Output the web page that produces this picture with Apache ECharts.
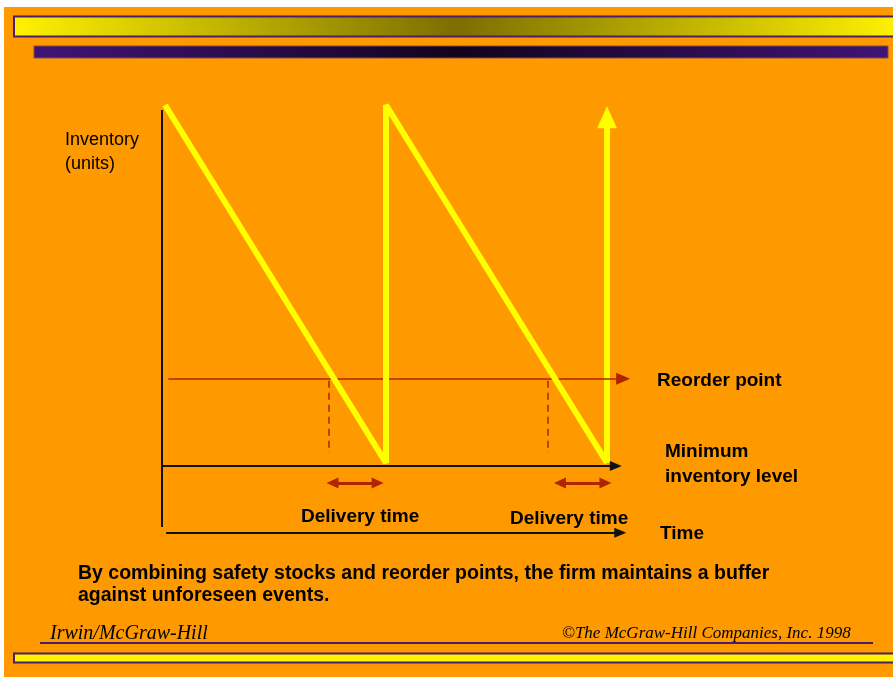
<!DOCTYPE html>
<html>
<head>
<meta charset="utf-8">
<script src="https://cdn.jsdelivr.net/npm/echarts@6/dist/echarts.min.js"></script>
<style>
  html, body { margin: 0; padding: 0; background: #fff; }
  #chart { width: 893px; height: 677px; }
</style>
</head>
<body>
<div id="chart"></div>
<script>
// sawtooth: time vs inventory
var timeVals = [0, 10, 10, 20];
var inventoryVals = [100, 0, 100, 0];
var restockTime = 20;              // last replenishment (arrow up)
var restockTop = 96.6;
var reorderLevel = 23.5;           // reorder point
var reorderTimes = [7.4, 17.3];    // when orders are placed (dashed lines)
var deliveryStart = [7.58, 17.87]; // delivery-time arrows
var deliveryEnd = [9.62, 19.93];
var minLevel = -0.85;              // minimum inventory level line
var deliveryLevel = -5.6;
var timeAxisLevel = -19.5;

var RED = '#B02400';
var BLACK = '#111';

var chart = echarts.init(document.getElementById('chart'));

var sawData = timeVals.map(function (t, i) { return [t, inventoryVals[i]]; });

var marks = [];
// final replenishment arrow
marks.push([
    {coord: [restockTime, 0], symbol: 'none', lineStyle: {color: '#FFFF00', width: 6, type: 'solid'}},
    {coord: [restockTime, restockTop], symbol: 'triangle', symbolSize: [20, 22]}
]);
// reorder point line
marks.push([
    {coord: [0.15, reorderLevel], symbol: 'none', lineStyle: {color: RED, width: 1.5, type: 'solid'}},
    {coord: [20.73, reorderLevel], symbol: 'triangle', symbolSize: [12, 14]}
]);
// dashed drop lines
reorderTimes.forEach(function (t) {
    marks.push([
        {coord: [t, reorderLevel - 0.5], symbol: 'none', lineStyle: {color: RED, width: 1.5, type: [7, 5]}},
        {coord: [t, 2.8], symbol: 'none'}
    ]);
});
// delivery-time arrows
deliveryStart.forEach(function (t, i) {
    marks.push([
        {coord: [t, deliveryLevel], symbol: 'triangle', symbolSize: [11, 12], lineStyle: {color: RED, width: 3, type: 'solid'}},
        {coord: [deliveryEnd[i], deliveryLevel], symbol: 'triangle', symbolSize: [11, 12]}
    ]);
});
// minimum inventory level line
marks.push([
    {coord: [-0.15, minLevel], symbol: 'none', lineStyle: {color: BLACK, width: 2, type: 'solid'}},
    {coord: [20.4, minLevel], symbol: 'triangle', symbolSize: [10, 12]}
]);
// time axis
marks.push([
    {coord: [0.05, timeAxisLevel], symbol: 'none', lineStyle: {color: BLACK, width: 2, type: 'solid'}},
    {coord: [20.6, timeAxisLevel], symbol: 'triangle', symbolSize: [10, 12]}
]);
// inventory axis
marks.push([
    {coord: [-0.14, 98.6], symbol: 'none', lineStyle: {color: BLACK, width: 2, type: 'solid'}},
    {coord: [-0.14, -17.9], symbol: 'none'}
]);

var txtFont = 'bold 19px "Liberation Sans", Arial, sans-serif';
function label(x, y, s, font) {
    return {
        type: 'text', x: x, y: y, z: 100,
        style: {text: s, font: font || txtFont, fill: '#000', verticalAlign: 'middle'}
    };
}

option = {
    backgroundColor: '#FF9900',
    animation: false,
    grid: {left: 142.9, right: 263.9, top: 105, bottom: 142.4},
    xAxis: {type: 'value', min: -1, max: 21, show: false},
    yAxis: {type: 'value', min: -20, max: 100, show: false},
    series: [
        {
            name: 'Inventory',
            type: 'line',
            data: sawData,
            showSymbol: false,
            silent: true,
            z: 5,
            lineStyle: {color: '#FFFF00', width: 6, join: 'bevel'},
            markLine: {
                silent: true,
                animation: false,
                label: {show: false},
                emphasis: {disabled: true},
                data: marks
            }
        }
    ],
    graphic: [
        // white frame at top and left
        {type: 'rect', shape: {x: 0, y: 0, width: 893, height: 7}, style: {fill: '#fff'}},
        {type: 'rect', shape: {x: 0, y: 0, width: 4, height: 677}, style: {fill: '#fff'}},
        // top yellow bar
        {type: 'rect', shape: {x: 14, y: 16.5, width: 885, height: 20},
            style: {
                fill: {type: 'linear', x: 0, y: 0, x2: 1, y2: 0, colorStops: [
                    {offset: 0, color: '#FFF200'}, {offset: 0.5, color: '#7C6E00'}, {offset: 1, color: '#FFF200'}]},
                stroke: '#4A1E6A', lineWidth: 2
            }},
        // purple bar
        {type: 'rect', shape: {x: 34, y: 46, width: 854, height: 12},
            style: {
                fill: {type: 'linear', x: 0, y: 0, x2: 1, y2: 0, colorStops: [
                    {offset: 0, color: '#401478'}, {offset: 0.5, color: '#12041C'}, {offset: 1, color: '#401478'}]},
                stroke: '#8A4A40', lineWidth: 1
            }},
        // footer rule
        {type: 'rect', shape: {x: 40, y: 642, width: 833, height: 2}, style: {fill: '#4A1E6A'}},
        // bottom yellow bar
        {type: 'rect', shape: {x: 14, y: 653.5, width: 885, height: 9},
            style: {fill: '#FFF200', stroke: '#4A1E6A', lineWidth: 2}},
        label(65, 140, 'Inventory', '18px "Liberation Sans", Arial, sans-serif'),
        label(65, 164, '(units)', '18px "Liberation Sans", Arial, sans-serif'),
        label(657, 381, 'Reorder point'),
        label(665, 452, 'Minimum'),
        label(665, 477, 'inventory level'),
        label(301, 517, 'Delivery time'),
        label(510, 519, 'Delivery time'),
        label(660, 534, 'Time'),
        label(78, 574, 'By combining safety stocks and reorder points, the firm maintains a buffer', 'bold 19.5px "Liberation Sans", Arial, sans-serif'),
        label(78, 596, 'against unforeseen events.', 'bold 19.5px "Liberation Sans", Arial, sans-serif'),
        label(50, 634, 'Irwin/McGraw-Hill', 'italic 20px "Liberation Serif", "Times New Roman", serif'),
        label(562, 634, '\u00A9The McGraw-Hill Companies, Inc. 1998', 'italic 17px "Liberation Serif", "Times New Roman", serif')
    ]
};
chart.setOption(option);
</script>
</body>
</html>
